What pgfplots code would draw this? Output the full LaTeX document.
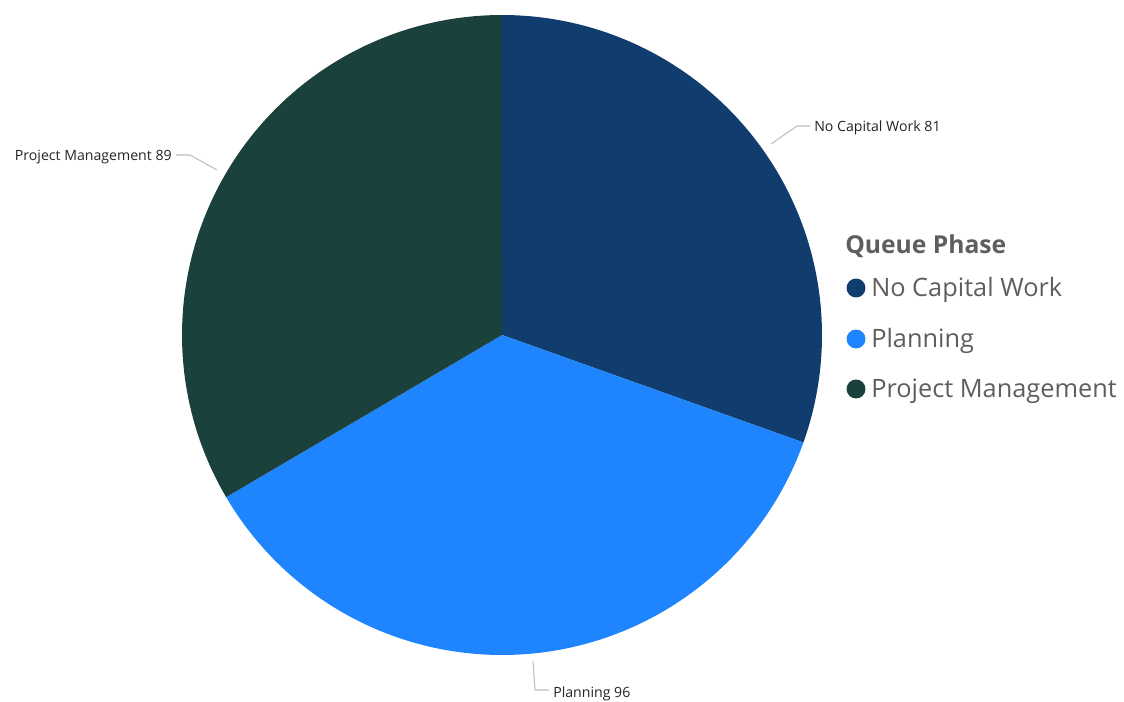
\documentclass[border=0pt]{standalone}
\usepackage{pgfplots}
\usepackage{pgfplotstable}
\pgfplotsset{compat=1.18}
\usepackage{fontspec}
\setmainfont{Open Sans}
\definecolor{cNCW}{RGB}{17,60,110}
\definecolor{cPlan}{RGB}{31,133,255}
\definecolor{cPM}{RGB}{27,65,61}
\definecolor{legtxt}{RGB}{96,94,92}
\definecolor{lbltxt}{RGB}{37,36,35}
\definecolor{leader}{RGB}{190,190,190}

\pgfplotstableread{
phase value
NoCapitalWork 81
Planning 96
ProjectManagement 89
}\piedata

\pgfplotstablegetelem{0}{value}\of\piedata \let\va\pgfplotsretval
\pgfplotstablegetelem{1}{value}\of\piedata \let\vb\pgfplotsretval
\pgfplotstablegetelem{2}{value}\of\piedata \let\vc\pgfplotsretval
\pgfmathsetmacro{\tot}{\va+\vb+\vc}
\pgfmathsetmacro{\aone}{90-(\va/\tot)*360}
\pgfmathsetmacro{\atwo}{\aone-(\vb/\tot)*360}
\pgfmathsetmacro{\athree}{\atwo-(\vc/\tot)*360}

\begin{document}
\begin{tikzpicture}
\begin{axis}[
  scale only axis, width=843pt, height=525.75pt,
  xmin=0, xmax=1124, ymin=0, ymax=701,
  hide axis, clip=false,
]
\path (axis cs:0,0) rectangle (axis cs:1124,701);
\addplot[draw=none, fill=cNCW, domain=\aone:90, samples=150, variable=\t]
  ({502+320*cos(t)},{366+320*sin(t)}) -- (axis cs:502,366) -- cycle;
\addplot[draw=none, fill=cPlan, domain=\atwo:\aone, samples=150, variable=\t]
  ({502+320*cos(t)},{366+320*sin(t)}) -- (axis cs:502,366) -- cycle;
\addplot[draw=none, fill=cPM, domain=\athree:\atwo, samples=150, variable=\t]
  ({502+320*cos(t)},{366+320*sin(t)}) -- (axis cs:502,366) -- cycle;

% leader lines and data labels
\draw[leader, line width=0.8pt] (axis cs:771,557) -- (axis cs:797,575) -- (axis cs:810,575);
\node[anchor=west, inner sep=0pt, font=\fontsize{10.6pt}{12pt}\selectfont, text=lbltxt] at (axis cs:814,573) {No Capital Work \va};
\draw[leader, line width=0.8pt] (axis cs:217,531) -- (axis cs:190,546) -- (axis cs:176,546);
\node[anchor=east, inner sep=0pt, font=\fontsize{10.6pt}{12pt}\selectfont, text=lbltxt] at (axis cs:172,544) {Project Management \vc};
\draw[leader, line width=0.8pt] (axis cs:533,40) -- (axis cs:535,11) -- (axis cs:549,11);
\node[anchor=west, inner sep=0pt, font=\fontsize{10.6pt}{12pt}\selectfont, text=lbltxt] at (axis cs:553,7) {Planning \vb};

% legend
\node[anchor=west, inner sep=0pt, font=\fontsize{18.5pt}{20pt}\selectfont\bfseries, text=legtxt] at (axis cs:845,455) {Queue Phase};
\fill[cNCW] (axis cs:856,413) circle[radius=7.1pt];
\node[anchor=west, inner sep=0pt, font=\fontsize{19pt}{21pt}\selectfont, text=legtxt] at (axis cs:871,411) {No Capital Work};
\fill[cPlan] (axis cs:856,362) circle[radius=7.1pt];
\node[anchor=west, inner sep=0pt, font=\fontsize{19pt}{21pt}\selectfont, text=legtxt] at (axis cs:871,360) {Planning};
\fill[cPM] (axis cs:856,312) circle[radius=7.1pt];
\node[anchor=west, inner sep=0pt, font=\fontsize{19pt}{21pt}\selectfont, text=legtxt] at (axis cs:871,310) {Project Management};
\end{axis}
\end{tikzpicture}
\end{document}
